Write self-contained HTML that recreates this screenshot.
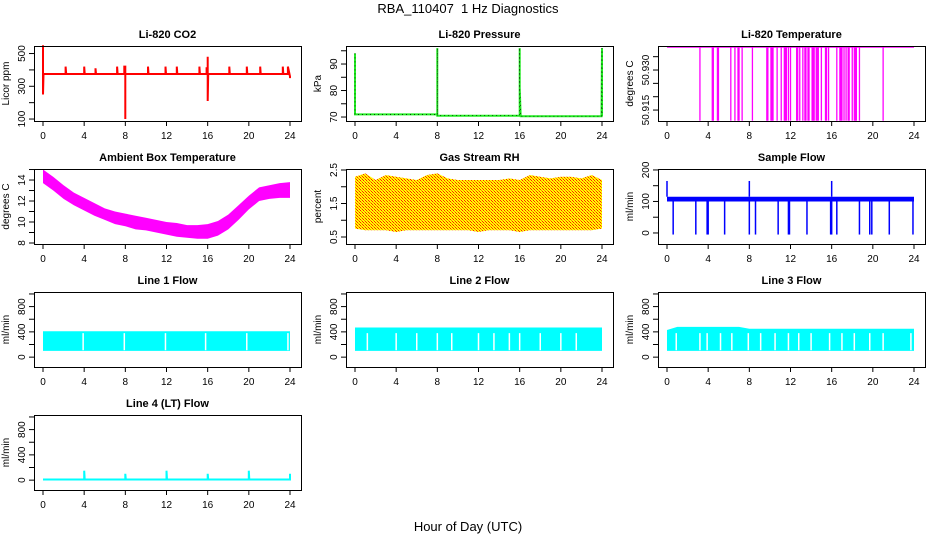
<!DOCTYPE html>
<html><head><meta charset="utf-8"><style>
html,body{margin:0;padding:0;background:#fff;}
svg{display:block;font-family:"Liberation Sans",Arial,sans-serif;}
</style></head><body>
<svg id="c" width="936" height="540" viewBox="0 0 936 540">
<defs>
<pattern id="rhpat" width="3" height="3" patternUnits="userSpaceOnUse">
<rect width="3" height="3" fill="#ffff00"/><rect x="0" y="0" width="1" height="1" fill="#ff2000"/><rect x="2" y="2" width="1" height="1" fill="#ff2000"/><rect x="1" y="1" width="1" height="1" fill="#ff8000"/>
</pattern>
</defs>
<text x="468" y="13" font-size="13" text-anchor="middle">RBA_110407&#160; 1 Hz Diagnostics</text>
<text x="468" y="531" font-size="13" text-anchor="middle">Hour of Day (UTC)</text>
</svg>
<script>
const xTicks=[0,4,8,12,16,20,24];
// CO2
const co2Hours=[0,0,0,0.05,2.2,2.2,2.25,4,4,4.05,5.1,5.1,5.15,7.2,7.2,7.25,7.9,7.9,8,8,8,8.05,10.2,10.2,10.25,11.9,11.9,11.95,13,13,13.05,15.2,15.2,15.25,15.9,15.9,16,16,16,16.05,18.1,18.1,18.15,19.8,19.8,19.85,21.1,21.1,21.15,23.3,23.3,23.35,23.8,23.8,24,24];
const co2Values=[375,550,250,375,375,420,375,375,420,375,375,410,375,375,420,375,375,420,420,100,375,375,375,420,375,375,420,375,375,420,375,375,420,375,375,410,410,480,210,375,375,420,375,375,420,375,375,420,375,375,420,375,375,420,360,350];
// Pressure
const presHours=[0,0,0,0.1,7.95,8,8,8,8.1,15.95,16,16,16,16.1,23.9,23.95,24,24];
const presValues=[94,85,71,71,71,71,96,70.5,70.5,70.5,70.5,96,81,70.3,70.3,70.3,96,70.3];
// Li-820 temperature
const ltTop=50.9385, ltLow=50.911;
const ltDipHours=[3.2,4.4,4.5,4.9,5.0,6.2,6.6,6.9,7.0,7.3,8.3,9.7,9.8,10.1,10.2,10.3,10.7,11.1,11.4,11.5,11.6,11.8,12.0,12.6,12.7,12.9,13.2,13.4,13.5,13.7,13.8,14.1,14.2,14.3,14.5,14.6,14.7,15.0,15.4,15.5,15.7,16.5,16.8,16.9,17.0,17.2,17.4,17.6,17.7,18.0,18.2,18.3,18.4,18.7,21.0];
// Ambient
const ambHours=[0,1,2,3,4,5,6,7,8,9,10,11,12,13,14,15,16,17,18,19,20,21,22,23,24];
const ambHi=[15,14.3,13.5,12.8,12.3,11.8,11.3,11,10.8,10.6,10.4,10.2,10.0,9.9,9.7,9.7,9.8,10.1,10.7,11.6,12.5,13.3,13.5,13.7,13.8];
const ambLo=[13.7,13,12.2,11.6,11.1,10.6,10.2,9.8,9.6,9.3,9.2,9.0,8.8,8.6,8.5,8.4,8.4,8.7,9.3,10.2,11.2,12.0,12.2,12.3,12.3];
// RH
const rhHours=[0,1,2,3,4,5,6,7,8,9,10,11,12,13,14,15,16,17,18,19,20,21,22,23,24];
const rhHi=[2.3,2.4,2.2,2.35,2.3,2.25,2.2,2.35,2.4,2.25,2.2,2.2,2.2,2.2,2.2,2.25,2.2,2.35,2.3,2.25,2.3,2.3,2.25,2.35,2.2];
const rhLo=[0.75,0.7,0.7,0.7,0.65,0.7,0.7,0.7,0.7,0.7,0.7,0.7,0.65,0.7,0.7,0.7,0.65,0.7,0.7,0.7,0.7,0.7,0.7,0.7,0.75];
// Sample flow
const sfHi=115, sfLo=100;
const sfDipHours=[0.6,2.8,3.9,4.0,5.6,8.0,8.6,10.8,11.8,11.9,13.6,15.9,16.0,16.5,18.7,19.7,19.9,21.6,23.9];
const sfSpikeHours=[0,8,16];
const sfSpikeValues=[165,165,165];
// Line flows
const l1Hi=[410,410,410,410,410,410,410,410,410,410,410,410,410,410,410,410,410,410,410,410,410,410,410,410,410];
const l1Gaps=[3.9,7.9,11.9,15.8,19.8,23.8];
const l2Hi=[470,470,470,470,470,470,470,470,470,470,470,470,470,470,470,470,470,470,470,470,470,470,470,470,470];
const l2Gaps=[1.2,4,6,8,9.4,12,13.5,15,16,18,20,21.5];
const l3Hi=[430,480,480,480,480,480,480,480,450,450,450,450,450,450,450,450,450,450,450,450,450,450,450,450,450];
const l3Gaps=[0.9,3.2,3.9,5.2,6.3,7.9,9.1,10.5,11.8,12.8,14,15.8,17,18.2,19.7,21,23.7];
const flowLo=100;
const l4Hours=[0,3.95,4,4,4.05,7.95,8,8,8.05,11.95,12,12,12.05,15.95,16,16,16.05,19.95,20,20,20.05,23.95,24,24];
const l4Values=[10,10,10,150,10,10,10,100,10,10,10,150,10,10,10,100,10,10,10,150,10,10,10,100];

const svg=document.getElementById('c');
const NS='http://www.w3.org/2000/svg';
function el(t,a,p){const e=document.createElementNS(NS,t);for(const k in a)e.setAttribute(k,a[k]);(p||svg).appendChild(e);return e;}

function panel(col,row,title,ylab,ylo,yhi,yticks,ylabels,name){
  const L=34+312*col,R=301+312*col,T=46+123*row,B=121+123*row;
  const x0=43+312*col,xs=247/24;
  const g=el('g',{});
  
  
  const X=h=>x0+h*xs, Y=v=>B-(v-ylo)/(yhi-ylo)*(B-T);
  const t=el('text',{x:(L+R)/2,y:T-8,'font-size':11,'font-weight':'bold','text-anchor':'middle'},g);t.textContent=title;
  
  
  const yt=el('text',{transform:`translate(${L-25},${(T+B)/2}) rotate(-90)`,'font-size':10,'text-anchor':'middle'},g);yt.textContent=ylab;
  
  
  const plot=el('g',{},g);
  
  
  el('rect',{x:L+0.5,y:T+0.5,width:R-L,height:B-T,fill:'none',stroke:'#000'},g);
  xTicks.forEach(h=>{
    el('line',{x1:X(h),x2:X(h),y1:B,y2:B+5,stroke:'#000'},g);
    const tx=el('text',{x:X(h),y:B+18,'font-size':10,'text-anchor':'middle'},g);tx.textContent=h;
    
    
  });
  yticks.forEach(v=>{el('line',{x1:L-5,x2:L,y1:Y(v),y2:Y(v),stroke:'#000'},g);});
  ylabels.forEach(([v,s])=>{
    const ty=el('text',{transform:`translate(${L-9},${Y(v)}) rotate(-90)`,'font-size':10,'text-anchor':'middle'},g);ty.textContent=s;
    
    
  });
  return {X,Y,g:plot};
}
function poly(p,hs,vs,color,w){
  const pts=hs.map((h,i)=>p.X(h).toFixed(1)+','+p.Y(vs[i]).toFixed(1)).join(' ');
  return el('polyline',{points:pts,fill:'none',stroke:color,'stroke-width':w||1},p.g);
}
function band(p,hs,hi,lo,fill){
  const pts=hs.map((h,i)=>p.X(h)+','+p.Y(hi[i])).concat(hs.slice().reverse().map((h,i)=>p.X(h)+','+p.Y(lo[hs.length-1-i])));
  return el('polygon',{points:pts.join(' '),fill:fill},p.g);
}

// CO2
let p=panel(0,0,'Li-820 CO2','Licor ppm',88,546,[100,200,300,400,500],[[100,'100'],[300,'300'],[500,'500']],'co2');
let ln=poly(p,co2Hours,co2Values,'#ff0000',2);


// Pressure
p=panel(1,0,'Li-820 Pressure','kPa',68.5,96.8,[70,75,80,85,90,95],[[70,'70'],[80,'80'],[90,'90']],'pressure');
ln=poly(p,presHours,presValues,'#22ee22',2);

ln=poly(p,presHours,presValues,'#000',0.7);ln.setAttribute('stroke-dasharray','1,3');


// Li temp
p=panel(2,0,'Li-820 Temperature','degrees C',50.9109,50.9390,[50.915,50.92,50.925,50.93,50.935],[[50.915,'50.915'],[50.93,'50.930']],'li820-temp');
ln=poly(p,[0,24],[ltTop,ltTop],'#ff00ff',1);

ltDipHours.forEach(h=>{
  const d=el('line',{x1:p.X(h),x2:p.X(h),y1:p.Y(ltTop),y2:p.Y(ltLow),stroke:'#ff00ff','stroke-width':1.3},p.g);
  
  
});

// Ambient
p=panel(0,1,'Ambient Box Temperature','degrees C',7.905,15.05,[8,9,10,11,12,13,14,15],[[8,'8'],[10,'10'],[12,'12'],[14,'14']],'ambient-temp');
ln=band(p,ambHours,ambHi,ambLo,'#ff00ff');


// RH
p=panel(1,1,'Gas Stream RH','percent',0.291,2.53,[0.5,1,1.5,2,2.5],[[0.5,'0.5'],[1.5,'1.5'],[2.5,'2.5']],'rh');
ln=band(p,rhHours,rhHi,rhLo,'url(#rhpat)');


// Sample flow
p=panel(2,1,'Sample Flow','ml/min',-35,203,[0,50,100,150,200],[[0,'0'],[100,'100'],[200,'200']],'sample-flow');
ln=band(p,[0,24],[sfHi,sfHi],[sfLo,sfLo],'#0000ff');

sfDipHours.forEach(h=>{
  const d=el('line',{x1:p.X(h),x2:p.X(h),y1:p.Y(sfLo),y2:p.Y(-5),stroke:'#0000ff','stroke-width':1.5},p.g);
  
  
});
sfSpikeHours.forEach((h,i)=>{
  const d=el('line',{x1:p.X(h),x2:p.X(h),y1:p.Y(sfHi),y2:p.Y(sfSpikeValues[i]),stroke:'#0000ff','stroke-width':1.5},p.g);
  
  
});

// Line flows
const hrs=ambHours;
function flowPanel(col,row,title,hi,gaps,name){
  const q=panel(col,row,title,'ml/min',-156,1031,[0,200,400,600,800,1000],[[0,'0'],[400,'400'],[800,'800']],name);
  const lo=hi.map(()=>flowLo);
  const b=band(q,hrs,hi,lo,'#00ffff');
  
  gaps.forEach(h=>{
    const d=el('line',{x1:q.X(h),x2:q.X(h),y1:q.Y(380),y2:q.Y(flowLo+10),stroke:'#fff','stroke-width':1.5},q.g);
    
    
  });
}
flowPanel(0,2,'Line 1 Flow',l1Hi,l1Gaps,'line1-flow');
flowPanel(1,2,'Line 2 Flow',l2Hi,l2Gaps,'line2-flow');
flowPanel(2,2,'Line 3 Flow',l3Hi,l3Gaps,'line3-flow');
p=panel(0,3,'Line 4 (LT) Flow','ml/min',-156,1031,[0,200,400,600,800,1000],[[0,'0'],[400,'400'],[800,'800']],'line4-flow');
ln=poly(p,l4Hours,l4Values,'#00ffff',2);

</script>
</body></html>
